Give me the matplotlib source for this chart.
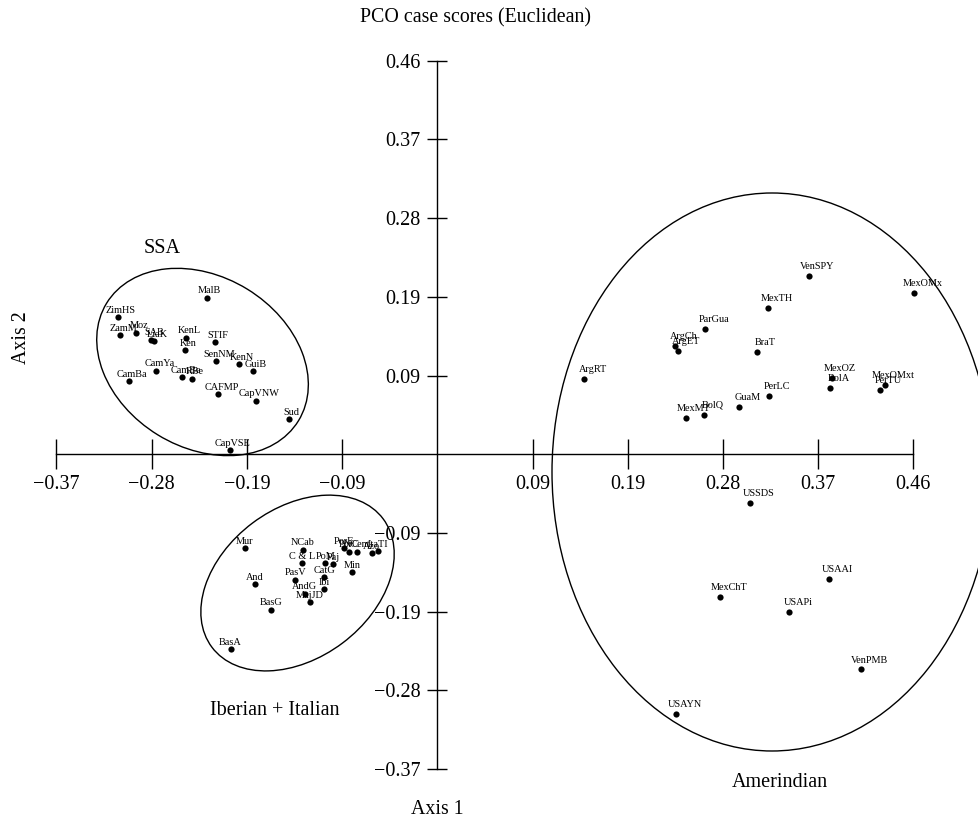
import matplotlib
matplotlib.use("Agg")
import matplotlib.pyplot as plt
from matplotlib.patches import Ellipse
from matplotlib.transforms import ScaledTranslation

plt.rcParams['font.family'] = ['Liberation Serif', 'DejaVu Serif']

# ---------------- data ----------------
ssa_labels = ["MalB", "ZimHS", "ZamM", "Moz", "SAB", "LiaK", "KenL", "Ken", "STIF",
              "SenNM", "KenN", "GuiB", "CamYa", "CamBa", "CamBe", "RBe", "CAFMP",
              "CapVNW", "Sud", "CapVSE"]
ssa_x = [-0.2242, -0.3106, -0.3083, -0.2931, -0.2778, -0.2749, -0.2437, -0.2454, -0.2162,
         -0.2148, -0.1928, -0.1792, -0.2729, -0.2995, -0.2476, -0.2382, -0.2126,
         -0.1762, -0.1444, -0.2016]
ssa_y = [0.1838, 0.1608, 0.1397, 0.1428, 0.1347, 0.1327, 0.1370, 0.1221, 0.1315,
         0.1092, 0.1061, 0.0975, 0.0984, 0.0862, 0.0905, 0.0890, 0.0706,
         0.0632, 0.0413, 0.0047]

ib_labels = ["Mur", "NCab", "C & L", "PoM", "Paj", "PasV", "CatG", "Ibi", "AndG", "MajJD",
             "And", "BasG", "BasA", "Min", "PorE", "PorC", "NCent", "Azo", "ItaTI"]
ib_x = [-0.1869, -0.1305, -0.1314, -0.1087, -0.1013, -0.1379, -0.1096, -0.1100, -0.1288,
        -0.1237, -0.1772, -0.1616, -0.2009, -0.0828, -0.0911, -0.0860, -0.0782, -0.0636,
        -0.0580]
ib_y = [-0.1101, -0.1121, -0.1281, -0.1281, -0.1288, -0.1472, -0.1445, -0.1589, -0.1639,
        -0.1738, -0.1527, -0.1827, -0.2291, -0.1386, -0.1101, -0.1144, -0.1144, -0.1159,
        -0.1136]

am_labels = ["VenSPY", "MexOMx", "MexTH", "ParGua", "ArgCh", "ArgET", "BraT", "ArgRT",
             "MexOZ", "BolA", "MexOMxt", "PerTU", "PerLC", "GuaM", "BolQ", "MexMT",
             "USSDS", "USAAI", "MexChT", "USAPi", "VenPMB", "USAYN"]
am_x = [0.3607, 0.4632, 0.3217, 0.2604, 0.2308, 0.2337, 0.3106, 0.1428,
        0.3833, 0.3817, 0.4352, 0.4304, 0.3220, 0.2931, 0.2594, 0.2412,
        0.3042, 0.3801, 0.2750, 0.3422, 0.4116, 0.2321]
am_y = [0.2099, 0.1892, 0.1725, 0.1471, 0.1268, 0.1213, 0.1201, 0.0882,
        0.0902, 0.0776, 0.0820, 0.0753, 0.0691, 0.0554, 0.0464, 0.0422,
        -0.0574, -0.1468, -0.1679, -0.1858, -0.2529, -0.3049]

group_names = ["SSA", "Iberian + Italian", "Amerindian"]

tick_step = 0.0925
tick_steps = [-4, -3, -2, -1, 1, 2, 3, 4, 5]
tick_labels = ["\u22120.37", "\u22120.28", "\u22120.19", "\u22120.09",
               "0.09", "0.19", "0.28", "0.37", "0.46"]

# ---------------- figure ----------------
W, H = 979, 826
fig = plt.figure(figsize=(W / 100, H / 100), dpi=100)
ax = fig.add_axes([0, 0, 1, 1])
ax.patch.set_visible(False)
ax.set_xlim(-0.42488, 0.52632)
ax.set_ylim(-0.43686, 0.53394)

for s in ['top', 'right']:
    ax.spines[s].set_visible(False)
for s in ['left', 'bottom']:
    ax.spines[s].set_position(('data', 0))
    ax.spines[s].set_bounds(tick_steps[0] * tick_step, tick_steps[-1] * tick_step)
    ax.spines[s].set_linewidth(1.0)

ticks = [k * tick_step for k in tick_steps]
ax.set_xticks(ticks, tick_labels)
ax.set_yticks(ticks, tick_labels)
ax.tick_params(axis='x', direction='inout', length=21.6, width=1.0, pad=4.0, labelsize=14.5)
ax.tick_params(axis='y', direction='inout', length=15.1, width=1.0, pad=4.3, labelsize=14.5)

groups = [
    (ssa_x, ssa_y, ssa_labels, (2.2, 3.2)),
    (ib_x, ib_y, ib_labels, (0.0, 3.1)),
    (am_x, am_y, am_labels, (6.1, 5.0)),
]
for xs, ys, labs, off in groups:
    ax.scatter(xs, ys, s=20, c='black', linewidths=0, zorder=3)
    for x, y, lab in zip(xs, ys, labs):
        ax.annotate(lab, (x, y), xytext=off, textcoords='offset points',
                    ha='center', va='baseline', fontsize=7.4, zorder=4)


def add_ellipse(cx, cy, w_px, h_px, angle):
    tr = fig.dpi_scale_trans + ScaledTranslation(cx, cy, ax.transData)
    e = Ellipse((0, 0), w_px / 100, h_px / 100, angle=angle, transform=tr,
                fill=False, lw=1.0, ec='black', zorder=2)
    ax.add_patch(e)


add_ellipse(-0.2281, 0.1085, 225, 171, -31.5)
add_ellipse(-0.1358, -0.1513, 214, 150, 36.9)
add_ellipse(0.3252, -0.0208, 440, 558, 0)


def ftext(px, py, s, **kw):
    fig.text(px / W, 1 - py / H, s, **kw)


ftext(476, 22.7, "PCO case scores (Euclidean)", ha='center', va='baseline', fontsize=14.3)
ftext(437, 814, "Axis 1", ha='center', va='baseline', fontsize=14.3)
ftext(21, 338, "Axis 2", ha='center', va='center', rotation=90, fontsize=14.3)
ftext(161.7, 253.3, group_names[0], ha='center', va='baseline', fontsize=14.5)
ftext(274.5, 715, group_names[1], ha='center', va='baseline', fontsize=14.5)
ftext(780, 786.7, group_names[2], ha='center', va='baseline', fontsize=14.5)

fig.savefig("out.png", dpi=100)
